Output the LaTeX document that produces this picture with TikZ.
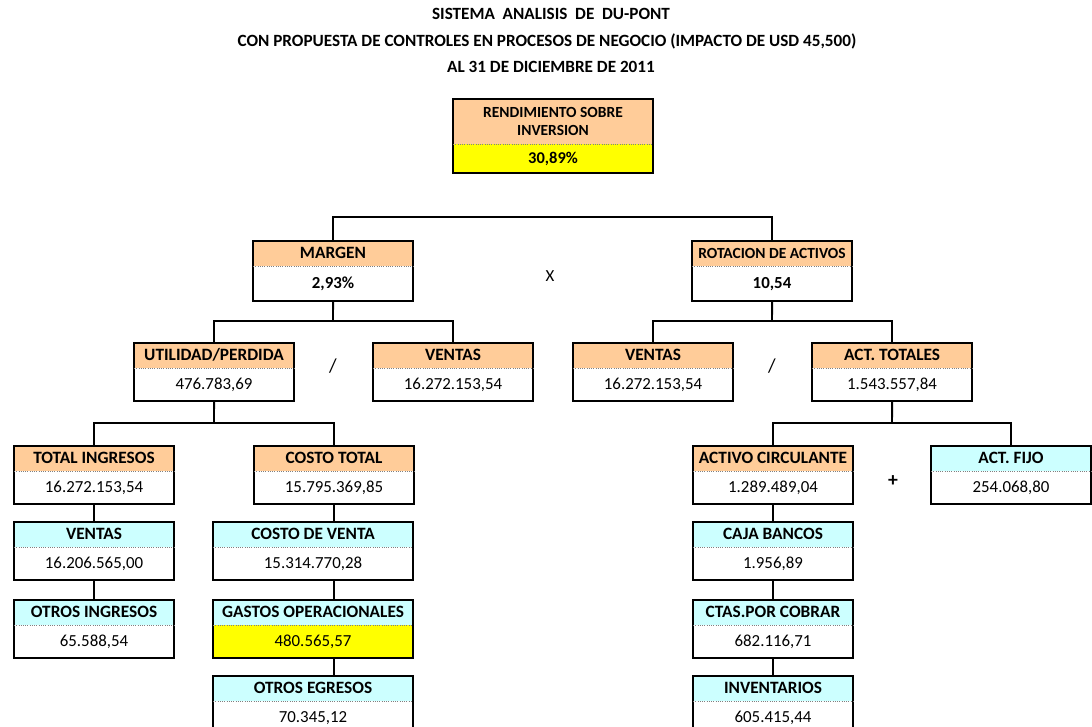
\documentclass[tikz,border=0pt]{standalone}
\usepackage{fontspec}
\setmainfont{Carlito}
\usetikzlibrary{shapes.multipart}
\definecolor{naranja}{HTML}{FFCC99}
\definecolor{celeste}{HTML}{CCFFFF}
\definecolor{amarillo}{HTML}{FFFF00}
\newlength{\pxl}
\setlength{\pxl}{0.025cm}
\newcommand{\cabe}[1]{\rule[-6\pxl]{0pt}{23\pxl}{\fontsize{12.3}{14}\selectfont\bfseries #1}}
\newcommand{\valor}[1]{\rule[-10\pxl]{0pt}{31\pxl}#1}
\newcommand{\valorg}[1]{\rule[-11.2\pxl]{0pt}{33\pxl}\textbf{#1}}

\begin{document}
\begin{tikzpicture}[x=0.025cm,y=0.025cm,
    every node/.style={font=\fontsize{12}{14}\selectfont},
    titulo/.style={font=\fontsize{12.2}{14}\selectfont\bfseries},
    caja/.style={rectangle split,rectangle split parts=2,rectangle split draw splits=false,
      draw,line width=1.4pt,minimum width=4cm,inner xsep=0pt,inner ysep=0pt,outer sep=0pt,
      anchor=north west},
    nar/.style={caja,rectangle split part fill={naranja,white}},
    cel/.style={caja,rectangle split part fill={celeste,white}},
    ancha/.style={minimum width=5cm},
    conector/.style={line width=1.4pt},
    sep/.style={gray,line width=0.6pt,densely dotted}]
  \useasboundingbox (0,0) rectangle (1092,-726);
  \clip (0,0) rectangle (1092,-726);
  % titulo
  \node[titulo] (t1) at (551,-14) {SISTEMA~ ANALISIS~ DE~ DU-PONT};
  \node[titulo] (t2) at (547,-41) {CON PROPUESTA DE CONTROLES EN PROCESOS DE NEGOCIO (IMPACTO DE USD 45,500)};
  \node[titulo] (t3) at (551,-67) {AL 31 DE DICIEMBRE DE 2011};
  % rendimiento
  \node[caja,ancha,rectangle split part fill={naranja,amarillo},align=center,
    font=\fontsize{11}{12.8}\selectfont] (rend) at (453,-99)
    {\rule{0pt}{18\pxl}\textbf{RENDIMIENTO SOBRE}\\\rule[-7\pxl]{0pt}{7\pxl}\textbf{INVERSION}%
     \nodepart{two}\rule[-8.5\pxl]{0pt}{27\pxl}{\fontsize{11.7}{13}\selectfont\bfseries 30,89\%}};
  % margen y rotacion
  \node[nar] (margen) at (253,-241) {\cabe{MARGEN}\nodepart{two}\valorg{2,93\%}};
  \node[nar] (rotacion) at (692,-241)
    {\rule[-6\pxl]{0pt}{23\pxl}\textbf{\fontsize{11}{13}\selectfont ROTACION DE ACTIVOS}\nodepart{two}\valorg{10,54}};
  \node (opx) at (550,-276) {X};
  % segundo nivel
  \node[nar] (utilidad) at (134,-343) {\cabe{UTILIDAD/PERDIDA}\nodepart{two}\valor{476.783,69}};
  \node[nar] (ventasa) at (373,-343) {\cabe{VENTAS}\nodepart{two}\valor{16.272.153,54}};
  \node[nar] (ventasb) at (573,-343) {\cabe{VENTAS}\nodepart{two}\valor{16.272.153,54}};
  \node[nar] (acttot) at (812,-343) {\cabe{ACT. TOTALES}\nodepart{two}\valor{1.543.557,84}};
  \node[font=\fontsize{14}{16}\selectfont] (opdiva) at (333,-366) {/};
  \node[font=\fontsize{14}{16}\selectfont] (opdivb) at (772,-366) {/};
  % tercer nivel
  \node[nar] (tingresos) at (14,-446) {\cabe{TOTAL INGRESOS}\nodepart{two}\valor{16.272.153,54}};
  \node[nar] (costot) at (254,-446) {\cabe{COSTO TOTAL}\nodepart{two}\valor{15.795.369,85}};
  \node[nar] (activoc) at (693,-446) {\cabe{ACTIVO CIRCULANTE}\nodepart{two}\valor{1.289.489,04}};
  \node[cel] (actfijo) at (931,-446) {\cabe{ACT. FIJO}\nodepart{two}\valor{254.068,80}};
  \node[font=\fontsize{14}{16}\selectfont\bfseries] (opmas) at (893,-481) {+};
  % detalle
  \node[cel] (ventasc) at (14,-522) {\cabe{VENTAS}\nodepart{two}\valor{16.206.565,00}};
  \node[cel] (otrosi) at (14,-600) {\cabe{OTROS INGRESOS}\nodepart{two}\valor{65.588,54}};
  \node[cel,ancha] (cventa) at (213,-522) {\cabe{COSTO DE VENTA}\nodepart{two}\valor{15.314.770,28}};
  \node[caja,ancha,rectangle split part fill={celeste,amarillo}] (gastos) at (213,-600)
    {\cabe{GASTOS OPERACIONALES}\nodepart{two}\valor{480.565,57}};
  \node[cel,ancha] (otrose) at (213,-676) {\cabe{OTROS EGRESOS}\nodepart{two}\valor{70.345,12}};
  \node[cel] (cajab) at (693,-522) {\cabe{CAJA BANCOS}\nodepart{two}\valor{1.956,89}};
  \node[cel] (ctas) at (693,-600) {\cabe{CTAS.POR COBRAR}\nodepart{two}\valor{682.116,71}};
  \node[cel] (invent) at (693,-676) {\cabe{INVENTARIOS}\nodepart{two}\valor{605.415,44}};
  \foreach \n in {rend,margen,rotacion,utilidad,ventasa,ventasb,acttot,tingresos,costot,
      activoc,actfijo,ventasc,otrosi,cventa,gastos,otrose,cajab,ctas,invent}
    \draw[sep] (\n.text split west) -- (\n.text split east);
  % conectores
  \coordinate (b1) at (553,-217);
  \coordinate (b2) at (333,-321);
  \coordinate (b3) at (772,-321);
  \coordinate (b4) at (214,-423);
  \coordinate (b5) at (892,-423);
  \draw[conector] (margen.north) |- (b1) -| (rotacion.north);
  \draw[conector] (margen.south) -- (b2);
  \draw[conector] (utilidad.north) |- (b2) -| (ventasa.north);
  \draw[conector] (rotacion.south) -- (b3);
  \draw[conector] (ventasb.north) |- (b3) -| (acttot.north);
  \draw[conector] (utilidad.south) -- (b4);
  \draw[conector] (tingresos.north) |- (b4) -| (costot.north);
  \draw[conector] (acttot.south) -- (b5);
  \draw[conector] (activoc.north) |- (b5) -| (actfijo.north);
  \draw[conector] (tingresos.south) -- (ventasc.north);
  \draw[conector] (ventasc.south) -- (otrosi.north);
  \draw[conector] (costot.south) -- (costot.south |- cventa.north);
  \draw[conector] (cventa.south -| costot.south) -- (gastos.north -| costot.south);
  \draw[conector] (gastos.south -| costot.south) -- (otrose.north -| costot.south);
  \draw[conector] (activoc.south) -- (cajab.north);
  \draw[conector] (cajab.south) -- (ctas.north);
  \draw[conector] (ctas.south) -- (invent.north);
\end{tikzpicture}
\end{document}
